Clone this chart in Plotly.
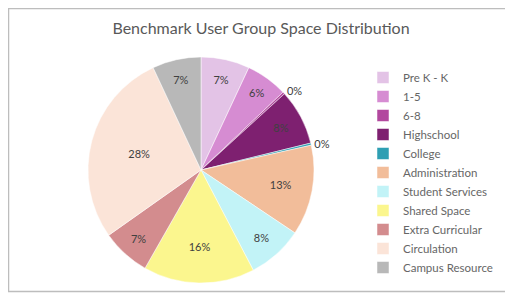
import plotly.graph_objects as go

categories = ["Pre K - K", "1-5", "6-8", "Highschool", "College", "Administration",
              "Student Services", "Shared Space", "Extra Curricular", "Circulation",
              "Campus Resource"]
shares = [7, 6, 0.3, 8, 0.3, 13, 8, 16, 7, 28, 7]
colors = ["#E3C3E6", "#D68CD2", "#B2489E", "#7E2070", "#2E9FB3", "#F2BD9A",
          "#C2F3F7", "#FBF68E", "#D38C8E", "#FBE4D8", "#B8B8B8"]

# page body has an 8px margin; the figure is offset by (8, 8) in the window
OFF = 8
W, H = 513 - OFF, 294 - OFF


def px_x(x):
    return (x - OFF) / W


def px_y(y):
    return 1 - (y - OFF) / H


positions = ["outside" if v < 1 else "inside" for v in shares]

fig = go.Figure(go.Pie(
    labels=categories,
    values=shares,
    sort=False,
    direction="clockwise",
    rotation=0,
    marker=dict(colors=colors, line=dict(color="white", width=0.5)),
    texttemplate="%{percent:.0%}",
    textposition=positions,
    insidetextorientation="horizontal",
    textfont=dict(family="Lato", size=11, color="#404040"),
    insidetextfont=dict(family="Lato", size=11, color="#404040"),
    outsidetextfont=dict(family="Lato", size=11, color="#404040"),
    domain=dict(x=[px_x(88), px_x(314)], y=[px_y(284), px_y(56)]),
    hoverinfo="label+percent",
))

fig.update_layout(
    width=W, height=H,
    margin=dict(l=0, r=0, t=0, b=0),
    paper_bgcolor="white",
    plot_bgcolor="white",
    title=dict(text="Benchmark User Group Space Distribution",
               x=px_x(261), xanchor="center", y=px_y(28), yanchor="middle",
               font=dict(family="Lato", size=16, color="#595959")),
    legend=dict(x=px_x(363), y=px_y(63), xanchor="left", yanchor="top",
                font=dict(family="Lato", size=11.5, color="#666666"),
                bgcolor="rgba(0,0,0,0)", itemwidth=30),
    showlegend=True,
    shapes=[dict(type="rect", xref="paper", yref="paper",
                 x0=px_x(8.5), x1=px_x(510.5), y0=px_y(291.5), y1=px_y(8.5),
                 line=dict(color="#BDBDBD", width=1.5), fillcolor="rgba(0,0,0,0)")],
)

fig.write_html("out.html")
